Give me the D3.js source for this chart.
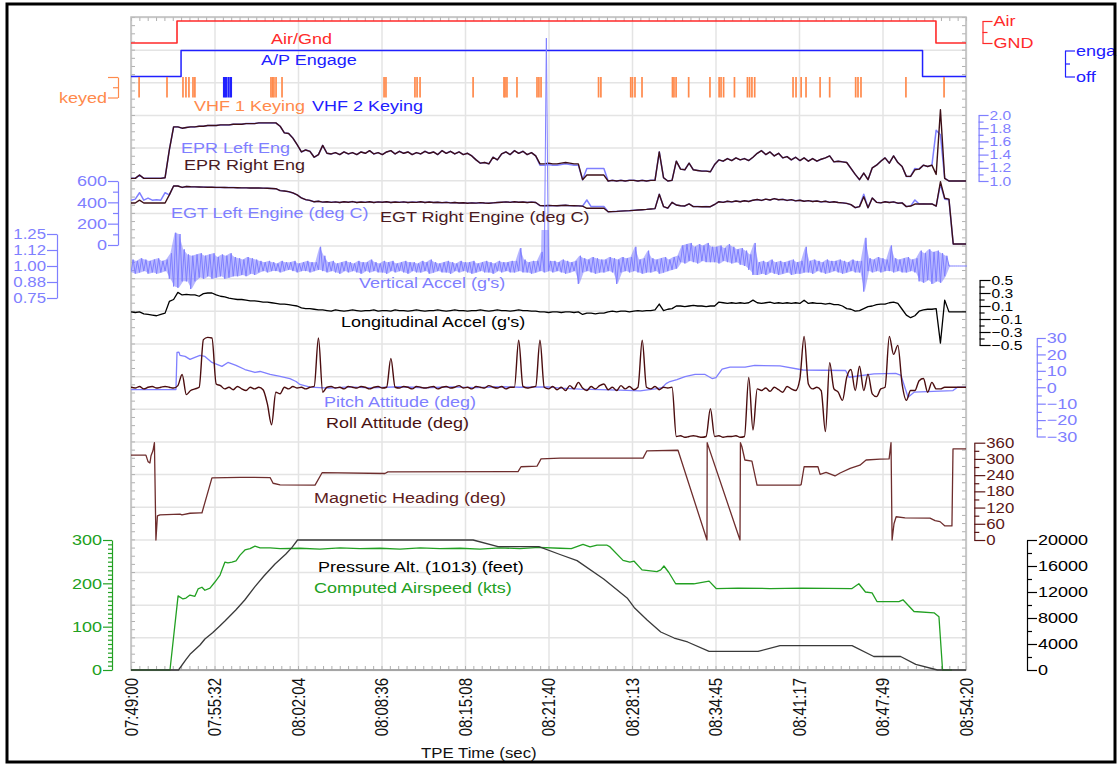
<!DOCTYPE html>
<html>
<head>
<meta charset="utf-8">
<script src="https://cdn.jsdelivr.net/npm/d3@7"></script>
<style>
  html, body { margin: 0; padding: 0; background: #fff; }
  svg { display: block; font-family: "Liberation Sans", Arial, sans-serif; }
</style>
</head>
<body>
<svg id="chart" width="1120" height="764"></svg>
<script>
// ---- time base: seconds after 07:49:00 ----
const timeTicks = [0, 392, 784, 1176, 1568, 1960, 2352, 2744, 3136, 3528, 3920];
const timeTickLabels = ["07:49:00", "07:55:32", "08:02:04", "08:08:36", "08:15:08", "08:21:40",
                        "08:28:13", "08:34:45", "08:41:17", "08:47:49", "08:54:20"];
const SAMPLE_STEP = 20; // seconds between samples of the recorded parameter arrays

// ---- discrete parameters: [time, state] ----
const airGnd = [[0, 0], [216, 1], [3779, 0], [3920, 0]];
const apEngage = [[0, 0], [235, 1], [3716, 0], [3920, 0]];
const vhf1Keying = [38, 169, 244, 258, 272, 291, 300, 657, 664, 671, 681, 709, 1188, 1197, 1333, 1343, 1357,
  1606, 1751, 1756, 1765, 1812, 1906, 1915, 1925, 2195, 2206, 2346, 2354, 2366, 2399, 2542, 2549, 2559,
  2618, 2718, 2761, 2770, 2782, 2833, 2894, 2904, 2915, 2928, 3108, 3122, 3146, 3169, 3235, 3280, 3402,
  3413, 3427, 3638, 3817];
const vhf2Keying = [437, 446, 458, 469];

// ---- engine parameters, one value per SAMPLE_STEP ----
const eprRight = [1.04,1.04,1.09,1.04,1.04,1.04,1.04,1.04,1.05,
  1.47,1.82,1.82,1.80,1.81,1.82,1.82,
  1.83,1.83,1.84,1.84,1.84,1.85,1.85,1.85,1.86,1.86,1.86,1.87,1.87,1.87,1.88,1.88,1.88,1.88,1.88,
  1.83,1.73,1.72,1.65,1.55,1.44,1.47,1.45,1.36,1.40,1.54,1.42,
  1.41,1.43,1.40,1.44,1.41,1.43,1.40,1.44,1.42,1.46,1.41,1.43,1.40,1.44,1.46,1.41,1.45,1.42,1.44,1.40,1.43,1.41,1.45,1.42,1.44,1.40,1.46,1.42,1.45,1.41,1.44,1.40,1.42,1.38,
  1.32,1.27,1.28,1.26,1.36,1.32,1.41,1.44,1.40,1.46,1.42,1.45,1.40,1.43,1.38,
  1.26,1.26,1.27,1.26,1.26,1.27,1.28,1.27,1.26,1.26,
  1.02,1.09,1.09,1.09,1.09,1.09,
  1.00,1.01,1.00,1.01,1.00,1.01,1.01,1.00,1.01,1.00,1.01,1.01,
  1.44,1.05,1.00,1.01,
  1.30,1.18,1.17,1.27,1.17,1.16,1.15,1.15,1.14,1.25,
  1.32,1.30,1.34,1.31,1.35,1.32,1.34,1.31,1.36,1.42,1.46,1.40,1.44,1.38,1.42,1.35,1.37,1.32,1.36,1.31,1.35,1.30,1.34,1.30,1.33,1.35,1.38,1.29,
  1.30,1.29,1.28,1.19,1.10,1.02,1.12,1.02,1.20,1.24,1.30,1.35,1.27,1.38,1.28,1.22,1.07,1.07,1.17,1.18,1.24,1.22,1.24,1.10,
  2.08,1.04,1.00,1.00,1.00,1.00,1.00];
const eprLeft = [1.04,1.04,1.09,1.04,1.04,1.04,1.04,1.04,1.05,
  1.47,1.82,1.82,1.80,1.81,1.82,1.82,
  1.83,1.83,1.84,1.84,1.84,1.85,1.85,1.85,1.86,1.86,1.86,1.87,1.87,1.87,1.88,1.88,1.88,1.88,1.88,
  1.83,1.73,1.72,1.65,1.55,1.44,1.47,1.45,1.36,1.40,1.54,1.42,
  1.41,1.43,1.40,1.44,1.41,1.43,1.40,1.44,1.42,1.46,1.41,1.43,1.40,1.44,1.46,1.41,1.45,1.42,1.44,1.40,1.43,1.41,1.45,1.42,1.44,1.40,1.46,1.42,1.45,1.41,1.44,1.40,1.42,1.38,
  1.32,1.27,1.28,1.26,1.36,1.32,1.41,1.44,1.40,1.46,1.42,1.45,1.40,1.43,1.38,
  1.24,1.24,1.25,1.24,1.24,1.25,1.26,1.25,1.24,1.24,
  1.02,1.19,1.19,1.19,1.19,1.19,
  1.00,1.01,1.00,1.01,1.00,1.01,1.01,1.00,1.01,1.00,1.01,1.01,
  1.44,1.05,1.00,1.01,
  1.30,1.18,1.17,1.27,1.17,1.16,1.15,1.15,1.14,1.25,
  1.32,1.30,1.34,1.31,1.35,1.32,1.34,1.31,1.36,1.42,1.46,1.40,1.44,1.38,1.42,1.35,1.37,1.32,1.36,1.31,1.35,1.30,1.34,1.30,1.33,1.35,1.38,1.29,
  1.30,1.29,1.28,1.19,1.10,1.02,1.12,1.02,1.20,1.24,1.30,1.35,1.27,1.38,1.28,1.22,1.07,1.07,1.19,1.18,1.24,1.22,1.24,1.77,
  1.70,1.04,1.00,1.00,1.00,1.00,1.00];
const egtRight = [394,394,420,394,394,394,394,394,394,
  470,553,553,540,548,
  546,545,544,543,542,541,540,540,539,538,538,537,536,536,535,534,534,533,532,530,
  528,510,506,500,488,470,441,425,418,405,410,402,
  406,400,404,398,405,401,407,399,403,400,405,398,404,401,406,399,403,400,404,398,
  402,400,405,399,403,398,401,397,400,395,398,394,396,392,395,393,397,394,392,395,
  398,401,404,400,405,401,403,399,402,398,
  370,368,370,369,368,370,372,369,368,367,
  364,344,344,345,344,344,
  312,313,315,318,320,322,325,328,331,334,338,341,
  475,360,345,400,375,368,366,385,360,360,358,360,359,380,
  406,400,410,404,412,406,415,408,420,426,418,430,422,435,424,428,418,425,414,420,410,416,408,412,404,410,400,406,
  398,395,390,378,350,360,453,350,440,400,395,405,398,404,392,395,360,365,384,384,386,384,385,365,
  593,438,430,10,10,10,10];
const egtLeft = [420,430,490,420,440,420,425,420,490,
  470,553,553,540,548,
  546,545,544,543,542,541,540,540,539,538,538,537,536,536,535,534,534,533,532,530,
  528,510,506,500,488,470,441,425,418,405,410,402,
  406,400,404,398,405,401,407,399,403,400,405,398,404,401,406,399,403,400,404,398,
  402,400,405,399,403,398,401,397,400,395,398,394,396,392,395,393,397,394,392,395,
  398,401,404,400,405,401,403,399,402,398,
  370,368,370,369,368,370,372,369,368,367,
  364,422,360,360,360,360,
  312,313,315,318,320,322,325,328,331,334,338,341,
  475,360,345,400,375,368,366,385,360,360,358,360,359,380,
  406,400,410,404,412,406,415,408,420,426,418,430,422,435,424,428,418,425,414,420,410,416,408,412,404,410,400,406,
  398,395,390,378,350,360,475,350,440,400,395,405,398,404,392,395,360,365,422,384,386,384,385,365,
  570,430,425,10,10,10,10];

// ---- vertical acceleration: low / high excursion in each SAMPLE_STEP ----
const vertAccelLow = [0.95,0.94,0.95,0.96,0.94,0.95,0.94,0.95,0.96,
  0.90,0.84,0.83,0.88,0.88,0.82,0.88,
  0.91,0.90,0.92,0.90,0.91,0.92,0.90,0.91,0.92,
  0.92,0.93,0.92,0.94,0.93,0.95,
  0.96,0.95,0.96,0.96,0.95,0.96,0.97,0.96,0.95,0.96,0.96,0.95,0.96,
  0.97,0.96,
  0.95,0.96,0.95,0.94,0.96,0.95,0.96,0.95,0.94,0.96,0.95,0.96,0.95,0.95,0.94,0.96,0.95,0.96,0.95,0.94,0.96,0.95,
  0.95,0.96,0.94,0.95,0.96,0.95,0.95,0.94,0.96,0.95,0.96,0.95,0.94,0.95,0.96,0.95,0.95,0.94,0.96,0.95,0.96,0.95,
  0.95,0.96,0.95,0.95,0.94,0.95,0.96,0.95,0.96,
  0.95,0.96,0.95,0.94,0.95,0.96,0.86,
  0.95,0.96,0.95,0.94,0.95,
  0.95,0.96,0.95,0.86,0.95,0.96,0.95,
  0.96,
  0.95,0.94,0.95,
  0.95,0.96,0.94,0.95,0.96,
  0.97,0.98,
  1.03,1.02,1.04,1.03,1.02,1.04,1.03,1.03,
  1.03,1.02,1.04,1.03,1.02,1.03,1.01,1.00,0.97,
  0.93,
  0.93,0.94,0.93,0.95,0.94,0.93,0.94,0.95,0.93,0.94,
  0.94,0.95,
  0.95,0.94,0.96,0.95,0.94,0.95,0.96,0.95,0.94,0.95,0.96,0.95,0.95,
  0.80,
  0.96,0.95,0.96,0.95,0.96,
  0.96,
  0.95,0.96,0.95,0.95,0.96,0.95,
  0.88,0.87,0.89,0.86,0.88,0.87,
  0.92,
  1.00,1.00,1.00,1.00,1.00];
const vertAccelHigh = [1.05,1.04,1.06,1.05,1.04,1.05,1.06,1.04,1.05,
  1.10,1.26,1.25,1.13,1.09,1.08,1.09,
  1.10,1.08,1.09,1.10,1.07,1.09,1.08,1.10,1.07,
  1.06,1.05,1.07,1.06,1.05,1.04,
  1.03,1.04,1.03,1.02,1.04,1.03,1.03,1.04,1.02,1.03,1.04,1.03,1.03,
  1.15,1.08,
  1.03,1.04,1.02,1.03,1.04,1.03,1.02,1.04,1.03,1.03,1.05,1.03,1.02,1.04,1.03,1.04,1.02,1.03,1.04,1.03,1.03,1.02,
  1.04,1.03,1.05,1.03,1.02,1.03,1.04,1.03,1.02,1.04,1.03,1.03,1.04,1.02,1.03,1.04,1.03,1.02,1.04,1.03,1.03,1.04,
  1.04,1.14,1.05,1.03,1.04,1.04,1.11,2.78,1.04,
  1.04,1.03,1.05,1.04,1.03,1.04,1.08,
  1.06,1.05,1.07,1.06,1.05,
  1.05,1.07,1.06,1.05,1.07,1.06,1.07,
  1.15,
  1.05,1.06,1.12,
  1.06,1.05,1.06,1.07,1.05,
  1.07,1.08,
  1.16,1.17,1.18,1.15,1.17,1.16,1.18,1.15,
  1.15,1.16,1.14,1.17,1.15,1.13,1.14,1.12,1.09,
  1.18,
  1.03,1.04,1.03,1.05,1.03,1.04,1.03,1.04,1.05,1.03,
  1.04,1.15,
  1.04,1.05,1.04,1.03,1.05,1.04,1.04,1.05,1.04,1.03,1.05,1.04,1.04,
  1.22,
  1.06,1.05,1.07,1.06,1.05,
  1.16,
  1.06,1.05,1.06,1.07,1.05,1.06,
  1.12,1.10,1.13,1.11,1.12,1.10,
  1.08,
  1.00,1.00,1.00,1.00,1.00];

// ---- longitudinal acceleration (g), one value per SAMPLE_STEP ----
const longAccel = [0.01,0.00,0.01,-0.02,-0.03,-0.04,-0.05,-0.03,-0.01,
  0.17,0.20,0.31,0.27,0.28,0.27,0.27,
  0.25,0.29,0.30,0.30,0.27,0.25,0.24,0.22,0.21,0.20,0.20,0.19,0.18,0.18,0.17,0.16,0.16,0.15,0.14,0.13,0.13,0.12,0.11,0.10,0.07,0.06,0.06,0.05,0.04,0.04,
  0.03,0.02,0.04,0.03,0.02,0.03,0.04,0.03,0.02,0.03,0.03,0.04,0.02,0.03,0.03,0.02,0.04,0.03,0.03,0.02,0.03,0.04,0.03,0.02,0.03,
  0.03,0.04,0.03,0.02,0.03,0.04,0.03,0.03,0.02,0.03,0.03,0.04,0.03,0.02,0.03,0.04,0.03,0.03,0.02,0.03,0.04,0.03,0.03,0.02,0.02,
  0.01,0.01,0.00,0.01,0.01,0.00,0.01,0.01,0.00,0.01,
  -0.03,-0.01,-0.01,-0.02,-0.01,-0.01,
  0.01,0.02,0.01,0.02,0.02,0.01,0.02,0.03,0.02,0.03,0.03,0.04,
  0.13,0.03,0.05,0.06,
  0.10,0.10,0.09,0.10,0.11,0.10,0.10,0.09,0.10,0.10,
  0.16,0.15,0.14,0.15,0.14,0.15,0.14,0.15,
  0.19,
  0.15,0.14,0.15,0.16,0.14,0.15,0.14,0.15,0.14,0.15,0.14,
  0.19,
  0.14,0.15,0.14,0.14,0.13,0.14,0.12,0.12,
  0.10,0.06,0.05,0.02,0.03,0.06,0.09,0.10,0.12,0.13,0.13,0.15,0.16,0.14,0.05,-0.04,-0.08,-0.05,0.02,0.04,0.05,0.05,0.06,
  -0.47,0.19,0.01,0.01,0.01,0.01,0.01];

// ---- attitude (deg) ----
const rollAtt = [0,-0.5,0.5,-1,0,0.5,-0.5,0,0.5,
  0,-0.5,1,7.8,-4.5,-2,-1,0,
  29,30.4,30,
  2,1,-1,0,-1.5,0.5,-1,-2,0,-1,0,-1.5,
  -10,-22.8,-3,-4,
  0,-1,0.5,-0.5,0,-1,0,0.5,
  30,-3,
  0,0.5,-0.5,0,-1,0.5,0,-0.5,0.5,0,-1,0,0.5,-0.5,
  0,17.6,
  0,-0.5,0.5,0,-1,0.5,0,-0.5,0,0.5,-1,0,0.5,-0.5,0,1,-0.5,0,-1,0.5,0,-0.5,1,0,-0.5,0.5,-1,0,
  0,28.6,0.5,
  -0.5,0,0.5,
  28.6,0,
  -1,0.5,-1.5,0,-2,1,-1,3,-0.5,-2,0.5,-1,1,2,-1.5,0,-2,1,-1,0.5,-1.5,0,
  28.6,0,
  -1,0.5,-1.5,0,-0.5,0,
  -30,-29.5,-30.5,-30,-29.5,-30,-30.5,-30,
  -13,
  -30,-29.5,-30.5,-30,-30,-29.5,-30.5,-30,
  6,-26,-1,
  -2,-0.5,-2.5,0,-1.5,-3,0.5,-1,-2,5,
  31,2,
  -1,0,-2,
  -27,15,-1,-3,-8,6,10.8,-2,12.8,-2,8,-4,-5.7,-1,0,
  31,20,25.5,2,-8,-2,
  -2,4,5.3,-3,3,-1,
  -1,0,0,0,0,0,0];
const pitchAtt = [[0,-1.4],[211,-1.4],[216,21.2],[225,21.4],[230,19.4],[254,18.8],[277,17],[300,18.2],
  [324,19.4],[347,18.8],[380,15.1],[427,12.7],[455,15.1],[493,13.3],[535,10.8],[582,9.0],[606,9.6],
  [653,7.8],[700,6.6],[746,5.3],[775,3.5],[793,1.7],[840,0.1],[930,-0.5],[1028,0.2],[1120,-0.4],
  [1263,0.3],[1380,-0.3],[1498,0.2],[1620,-0.2],[1732,0.3],[1826,0],[1958,0.2],[2014,-0.5],[2108,-1.2],
  [2202,-1.5],[2296,-1.8],[2390,-2.2],[2460,-1.0],[2493,-0.3],[2512,2.2],[2530,3.5],[2563,4.7],
  [2601,6.5],[2648,7.8],[2695,7.8],[2728,5.3],[2746,5.8],[2775,11.0],[2812,12.2],[2883,12.2],
  [2928,13.3],[3047,13.0],[3155,10.5],[3355,10.2],[3371,6.1],[3488,8.2],[3590,8.4],[3615,7.2],
  [3648,-6.1],[3676,-3.0],[3859,-2.0],[3880,0],[3920,0]];

// ---- navigation: [time, value] ----
const magHeading = [[0,314],[70,314],[80,290],[89,285],[94,312],[103,330],[110,360],[117,0],[124,89],
  [136,93],[230,96],[239,93],[277,99],[324,100],[333,100],[380,230],[512,232],[653,231],[667,210],
  [700,204],[864,203],[897,249],[1192,246],[1206,252],[1817,253],[1831,271],[1906,273],[1925,300],
  [2014,303],[2404,303],[2422,330],[2568,332],[2704,0],[2705,360],[2709,350],[2859,0],[2861,360],
  [2868,345],[2882,296],[2915,292],[2939,203],[3141,203],[3146,205],[3160,271],[3225,271],[3235,243],
  [3263,250],[3305,237],[3329,248],[3376,265],[3422,277],[3451,296],[3516,299],[3559,300],[3568,360],
  [3573,0],[3582,60],[3592,86],[3634,82],[3751,81],[3775,72],[3798,68],[3821,52],[3854,52],[3859,337],
  [3920,337]];
const airspeed = [[0,0],[183,0],[221,171],[244,164],[258,166],[277,173],[300,170],[315,187],[333,191],
  [347,184],[371,189],[394,203],[418,219],[441,249],[455,247],[474,249],[493,252],[512,265],[535,277],
  [559,280],[582,286],[606,282],[653,282],[700,280],[793,281],[887,279],[981,282],[1075,280],[1169,281],
  [1263,279],[1357,282],[1451,280],[1545,281],[1638,279],[1732,282],[1826,280],[1915,283],[2014,281],
  [2067,280],[2122,290],[2155,284],[2188,288],[2235,288],[2249,284],[2310,253],[2342,249],[2362,251],
  [2399,231],[2469,227],[2487,231],[2502,240],[2525,225],[2557,199],[2642,199],[2714,205],[2747,188],
  [2850,189],[3000,188],[3150,189],[3385,188],[3417,199],[3448,180],[3479,178],[3502,158],[3605,158],
  [3624,162],[3676,135],[3770,132],[3793,123],[3810,0],[3854,0]];
const pressureAlt = [[0,0],[223,0],[257,1540],[277,2410],[324,3850],[347,4770],[383,5740],[418,6820],
  [441,7540],[492,9230],[534,10770],[582,12820],[624,14460],[676,16310],[726,17800],[756,18870],
  [782,20000],[1606,20000],[1723,18970],[1915,18970],[2014,17770],[2094,16830],[2219,14000],
  [2329,11080],[2362,9620],[2423,7690],[2487,5850],[2550,4920],[2613,4310],[2714,2860],[2944,2860],
  [3047,3750],[3385,3750],[3487,2080],[3613,2080],[3684,860],[3786,0],[3920,0]];

// axis tick labels
const vertAccelTicks = [0.75, 0.875, 1.0, 1.125, 1.25];
const vertAccelTickLabels = ["0.75", "0.88", "1.00", "1.12", "1.25"];

// ---------------- drawing ----------------
const SX = 1.2;              // horizontal stretch applied to all lettering
const FONT = 15;
const plot = { left: 131, right: 966, top: 17, bottom: 670 };

const svg = d3.select("#chart");
const defs = svg.append("defs");
defs.append("clipPath").attr("id", "plotClip")
  .append("rect").attr("x", plot.left).attr("y", 0).attr("width", plot.right - plot.left + 1).attr("height", plot.bottom + 2);
defs.append("clipPath").attr("id", "vaccBand")
  .append("rect").attr("x", plot.left).attr("y", 230).attr("width", plot.right - plot.left).attr("height", 72);

const root = svg.append("g");
root.append("rect").attr("width", 1120).attr("height", 764).attr("fill", "#fff");

const x = d3.scaleLinear().domain([0, 3920]).range([plot.left, plot.right]);
const gridY = d3.scaleLinear().domain([0, 20]).range([plot.bottom, plot.top]);

// band scales
const yAir = d3.scaleLinear().domain([0, 1]).range([43, 21]);
const yAP = d3.scaleLinear().domain([0, 1]).range([76.5, 50.5]);
const yKey = d3.scaleLinear().domain([0, 1]).range([77, 97.5]);
const yEPR = d3.scaleLinear().domain([1, 2]).range([181, 115]);
const yEGT = d3.scaleLinear().domain([0, 600]).range([245, 181]);
const yVacc = d3.scaleLinear().domain([0.75, 1.25]).range([298, 234]);
const yLong = d3.scaleLinear().domain([-0.5, 0.5]).range([345, 280]);
const yAtt = d3.scaleLinear().domain([-30, 30]).range([436.5, 338]);
const yHdg = d3.scaleLinear().domain([0, 360]).range([540, 442.7]);
const ySpd = d3.scaleLinear().domain([0, 300]).range([670, 540]);
const yAlt = d3.scaleLinear().domain([0, 20000]).range([670, 540]);

const COL = {
  red: "#ff2a2a", blue: "#2020ff", orange: "#ff8a4c", light: "#7f7fff",
  brown: "#3d0f17", brownText: "#4a1a1f", roll: "#4b0d0f", heading: "#6e2d2d",
  headingAxis: "#5a1616", green: "#22a022", alt: "#3a3a3a", black: "#000"
};

// ---- grid ----
const gridG = root.append("g");
gridG.append("g").attr("transform", `translate(0,${plot.top})`)
  .call(d3.axisBottom(x).tickValues(timeTicks).tickSize(plot.bottom - plot.top).tickFormat(""))
  .call(g => g.select(".domain").remove());
gridG.append("g").attr("transform", `translate(${plot.left},0)`)
  .call(d3.axisRight(gridY).tickValues(d3.range(0, 21)).tickSize(plot.right - plot.left).tickFormat(""))
  .call(g => g.select(".domain").remove());
gridG.selectAll("line").attr("stroke", "#e4e4e4").attr("stroke-width", 1.5);

// ---- frame minor ticks ----
const frameG = root.append("g");
const minorTimes = d3.range(0, 3920.01, 39.2);
const minorRows = d3.range(0, 20.01, 0.25);
frameG.append("g").attr("transform", `translate(0,${plot.bottom})`)
  .call(d3.axisTop(x).tickValues(minorTimes).tickSize(4).tickFormat(""));
frameG.append("g").attr("transform", `translate(0,${plot.top})`)
  .call(d3.axisBottom(x).tickValues(minorTimes).tickSize(4).tickFormat(""));
frameG.append("g").attr("transform", `translate(${plot.left},0)`)
  .call(d3.axisRight(gridY).tickValues(minorRows).tickSize(4).tickFormat(""));
frameG.append("g").attr("transform", `translate(${plot.right},0)`)
  .call(d3.axisLeft(gridY).tickValues(minorRows).tickSize(4).tickFormat(""));
frameG.selectAll(".domain").remove();
frameG.selectAll("line").attr("stroke", "#b0b0b0").attr("stroke-width", 1);
frameG.append("rect").attr("x", plot.left).attr("y", plot.top)
  .attr("width", plot.right - plot.left).attr("height", plot.bottom - plot.top)
  .attr("fill", "none").attr("stroke", "#bdbdbd").attr("stroke-width", 1.5);
frameG.append("line").attr("x1", plot.left).attr("x2", plot.right)
  .attr("y1", plot.bottom).attr("y2", plot.bottom).attr("stroke", "#9a9a9a").attr("stroke-width", 1.5);

// ---- series ----
const series = root.append("g").attr("clip-path", "url(#plotClip)").attr("fill", "none")
  .attr("stroke-linejoin", "round");
const sampled = arr => arr.map((v, i) => [i * SAMPLE_STEP, v]);
function drawLine(data, yScale, color, width, curve) {
  const gen = d3.line().x(d => x(d[0])).y(d => yScale(d[1]));
  if (curve) gen.curve(curve);
  series.append("path").datum(data).attr("d", gen).attr("stroke", color).attr("stroke-width", width);
}

drawLine(airGnd, yAir, COL.red, 1.6, d3.curveStepAfter);
drawLine(apEngage, yAP, COL.blue, 1.5, d3.curveStepAfter);
vhf1Keying.forEach(t => drawLine([[t, 0], [t, 1]], yKey, COL.orange, 1.7));
vhf2Keying.forEach(t => drawLine([[t, 0], [t, 1]], yKey, COL.blue, 2.3));

drawLine(sampled(eprLeft), yEPR, COL.light, 1.5);
drawLine(sampled(eprRight), yEPR, COL.brown, 1.4);
drawLine(sampled(egtLeft), yEGT, COL.light, 1.5);
drawLine(sampled(egtRight), yEGT, COL.brown, 1.4);

// vertical acceleration: shaded excursion band plus the trace zig-zagging between extremes
const vaccBand = d3.area()
  .x((d, i) => x(i * SAMPLE_STEP + SAMPLE_STEP / 4))
  .y0((d, i) => yVacc(vertAccelLow[i]))
  .y1((d, i) => yVacc(vertAccelHigh[i]));
series.append("path").datum(vertAccelLow).attr("d", vaccBand)
  .attr("fill", COL.light).attr("fill-opacity", 0.55).attr("stroke", "none")
  .attr("clip-path", "url(#vaccBand)");
const vaccPts = vertAccelLow.flatMap((lo, i) => [[i * SAMPLE_STEP, lo], [i * SAMPLE_STEP + SAMPLE_STEP / 2, vertAccelHigh[i]]]);
drawLine(vaccPts, yVacc, COL.light, 1.0);

drawLine(sampled(longAccel), yLong, COL.black, 1.3);
drawLine(pitchAtt, yAtt, COL.light, 1.3);
drawLine(sampled(rollAtt), yAtt, COL.roll, 1.4, d3.curveMonotoneX);
drawLine(magHeading, yHdg, COL.heading, 1.3);
drawLine(airspeed, ySpd, COL.green, 1.3);
drawLine(pressureAlt, yAlt, COL.alt, 1.3);

// ---- axes ----
function stretchText(sel) {
  sel.each(function () {
    const t = d3.select(this);
    t.attr("x", (+t.attr("x") || 0) / SX).attr("transform", `scale(${SX},1)`);
  });
}
function yAxis(scale, side, xPos, o) {
  const g = root.append("g").attr("transform", `translate(${xPos},0)`);
  const make = side === "left" ? d3.axisLeft : d3.axisRight;
  if (o.minor) {
    g.append("g").call(make(scale).tickValues(o.minor).tickSize(o.minorSize || 5).tickFormat("").tickSizeOuter(0))
      .call(s => s.select(".domain").remove());
  }
  const ax = make(scale).tickValues(o.major).tickSize(o.size || 10).tickPadding(o.pad || 1).tickSizeOuter(0);
  if (o.labels) ax.tickFormat((d, i) => o.labels[i]);
  else if (o.format) ax.tickFormat(o.format);
  g.append("g").call(ax);
  g.selectAll("line, path").attr("stroke", o.color).attr("stroke-width", 1.2);
  g.selectAll("text").attr("fill", o.color).attr("font-size", o.font || FONT)
    .attr("font-family", '"Liberation Sans", Arial, sans-serif').call(stretchText);
  return g;
}

yAxis(yAir, "right", 982.5, { major: [0, 1], labels: ["GND", "Air"], minor: [0.5], color: COL.red });
yAxis(yAP, "right", 1065, { major: [0, 1], labels: ["off", "enga"], minor: [0.5], color: COL.blue });
yAxis(yKey, "left", 118, { major: [0, 1], labels: ["", "keyed"], minor: [0.5], color: COL.orange });
yAxis(yEPR, "right", 978.6, { major: d3.range(1, 2.01, 0.2), format: d3.format(".1f"),
  minor: d3.range(1.1, 2, 0.2), color: COL.light, font: 13 });
yAxis(yEGT, "left", 118, { major: [0, 200, 400, 600], minor: [100, 300, 500], color: COL.light });
yAxis(yVacc, "left", 57, { major: vertAccelTicks, labels: vertAccelTickLabels, color: COL.light, font: 14 });
yAxis(yLong, "right", 979.6, { major: [-0.5, -0.3, -0.1, 0.1, 0.3, 0.5], format: d3.format(".1f"),
  minor: [-0.4, -0.2, 0, 0.2, 0.4], size: 11, color: COL.black, font: 13 });
yAxis(yAtt, "right", 1036.8, { major: d3.range(-30, 31, 10), minor: d3.range(-25, 30, 10), size: 9,
  color: COL.light });
yAxis(yHdg, "right", 974.3, { major: d3.range(0, 361, 60), minor: d3.range(30, 360, 60), size: 11,
  color: COL.headingAxis, font: 14 });
yAxis(ySpd, "left", 112, { major: [0, 100, 200, 300], minor: d3.range(10, 300, 10).filter(v => v % 100),
  size: 9, minorSize: 4, color: COL.green });
yAxis(yAlt, "right", 1027, { major: d3.range(0, 20001, 4000), format: d3.format("d"),
  minor: d3.range(2000, 20000, 4000), color: COL.black });

// time axis
const xAxisG = root.append("g").attr("transform", `translate(0,${plot.bottom})`)
  .call(d3.axisBottom(x).tickValues(timeTicks).tickFormat((d, i) => timeTickLabels[i]).tickSize(0).tickPadding(0));
xAxisG.select(".domain").remove();
xAxisG.selectAll("text")
  .attr("x", -8).attr("y", 0).attr("dy", "0.35em").attr("text-anchor", "end")
  .attr("transform", `scale(${SX},1) rotate(-90)`)
  .attr("fill", "#111").attr("font-size", FONT).attr("font-family", '"Liberation Sans", Arial, sans-serif');

// ---- series captions ----
function caption(px, py, str, color, size) {
  root.append("text").attr("transform", `translate(${px},${py}) scale(${SX},1)`)
    .attr("font-size", size || FONT).attr("fill", color).text(str);
}
caption(271, 44, "Air/Gnd", COL.red);
caption(261, 65, "A/P Engage", COL.blue);
caption(194, 111, "VHF 1 Keying", COL.orange);
caption(312, 111, "VHF 2 Keying", COL.blue);
caption(181, 153, "EPR Left Eng", COL.light);
caption(184, 170, "EPR Right Eng", COL.brownText);
caption(171, 218, "EGT Left Engine (deg C)", COL.light);
caption(380, 222, "EGT Right Engine (deg C)", COL.brownText);
caption(359, 288, "Vertical Accel (g's)", COL.light);
caption(341, 327, "Longitudinal Accel (g's)", COL.black);
caption(324, 407, "Pitch Attitude (deg)", COL.light);
caption(326, 428, "Roll Attitude (deg)", "#4a1212");
caption(314, 503, "Magnetic Heading (deg)", "#5e1d1d");
caption(318, 572, "Pressure Alt. (1013) (feet)", COL.black);
caption(314, 593, "Computed Airspeed (kts)", COL.green);
caption(421, 758, "TPE Time (sec)", "#111", 14);

// outer border
svg.append("rect").attr("x", 7).attr("y", 4).attr("width", 1108).attr("height", 758)
  .attr("fill", "none").attr("stroke", "#000").attr("stroke-width", 3);
</script>
</body>
</html>
